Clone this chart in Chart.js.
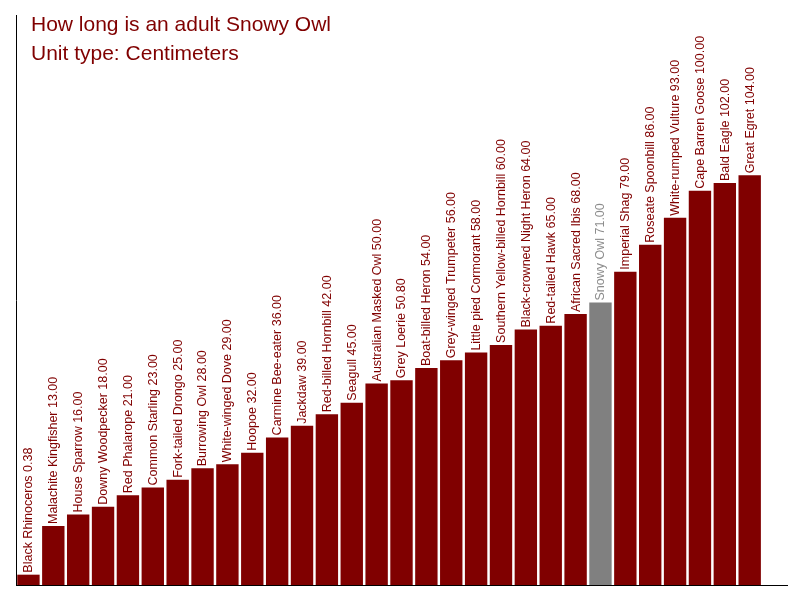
<!DOCTYPE html>
<html>
<head>
<meta charset="utf-8">
<script src="https://cdn.jsdelivr.net/npm/chart.js@4"></script>
<style>
html,body{margin:0;padding:0;background:#fff;}
#wrap{width:800px;height:600px;}
</style>
</head>
<body>
<div id="wrap"><canvas id="c" width="800" height="600"></canvas></div>
<script>
const categories = ["Black Rhinoceros","Malachite Kingfisher","House Sparrow","Downy Woodpecker","Red Phalarope","Common Starling","Fork-tailed Drongo","Burrowing Owl","White-winged Dove","Hoopoe","Carmine Bee-eater","Jackdaw","Red-billed Hornbill","Seagull","Australian Masked Owl","Grey Loerie","Boat-billed Heron","Grey-winged Trumpeter","Little pied Cormorant","Southern Yellow-billed Hornbill","Black-crowned Night Heron","Red-tailed Hawk","African Sacred Ibis","Snowy Owl","Imperial Shag","Roseate Spoonbill","White-rumped Vulture","Cape Barren Goose","Bald Eagle","Great Egret"];
const lengthsCm = [0.38,13,16,18,21,23,25,28,29,32,36,39,42,45,50,50.8,54,56,58,60,64,65,68,71,79,86,93,100,102,104];
const highlighted = "Snowy Owl";
const titleLines = ["How long is an adult Snowy Owl","Unit type: Centimeters"];

const MAROON = "#800000";
const GREY = "#808080";
const yMin = -2.3, yMax = 145.6;

const labels = categories.concat([""]);
const values = lengthsCm.concat([null]);
const barColors = labels.map(c => c === highlighted ? GREY : MAROON);
const textColors = labels.map(c => c === highlighted ? "#8c8c8c" : MAROON);

const barLabelPlugin = {
  id: "barLabels",
  afterDatasetsDraw(chart) {
    const ctx = chart.ctx;
    const meta = chart.getDatasetMeta(0);
    ctx.save();
    ctx.font = "12.5px 'Liberation Sans', Arial, sans-serif";
    ctx.textAlign = "left";
    ctx.textBaseline = "middle";
    meta.data.forEach((el, i) => {
      if (values[i] === null) return;
      const txt = categories[i] + " " + values[i].toFixed(2);
      ctx.save();
      ctx.translate(el.x + 0.5, el.y - 2);
      ctx.rotate(-Math.PI / 2);
      ctx.fillStyle = textColors[i];
      ctx.fillText(txt, 0, 0);
      ctx.restore();
    });
    ctx.restore();
  }
};

const titlePlugin = {
  id: "titleText",
  afterDraw(chart) {
    const ctx = chart.ctx;
    ctx.save();
    ctx.font = "21px 'Liberation Sans', Arial, sans-serif";
    ctx.fillStyle = MAROON;
    ctx.textAlign = "left";
    ctx.textBaseline = "alphabetic";
    ctx.fillText(titleLines[0], 31, 30.5);
    ctx.fillText(titleLines[1], 31, 60);
    ctx.restore();
  }
};

new Chart(document.getElementById("c"), {
  type: "bar",
  data: {
    labels: labels,
    datasets: [{
      data: values,
      backgroundColor: barColors,
      borderWidth: 0,
      base: yMin,
      barPercentage: 0.9,
      categoryPercentage: 1.0
    }]
  },
  options: {
    responsive: false,
    animation: false,
    devicePixelRatio: 1,
    layout: { padding: { left: 16, right: 13, top: 15, bottom: 15 } },
    plugins: { legend: { display: false }, tooltip: { enabled: false }, title: { display: false } },
    scales: {
      x: {
        type: "category",
        offset: true,
        ticks: { display: false },
        grid: { display: false, drawTicks: false },
        border: { display: true, color: "#000", width: 1 }
      },
      y: {
        min: yMin,
        max: yMax,
        ticks: { display: false },
        grid: { display: false, drawTicks: false },
        border: { display: true, color: "#000", width: 1 }
      }
    }
  },
  plugins: [barLabelPlugin, titlePlugin]
});
</script>
</body>
</html>
